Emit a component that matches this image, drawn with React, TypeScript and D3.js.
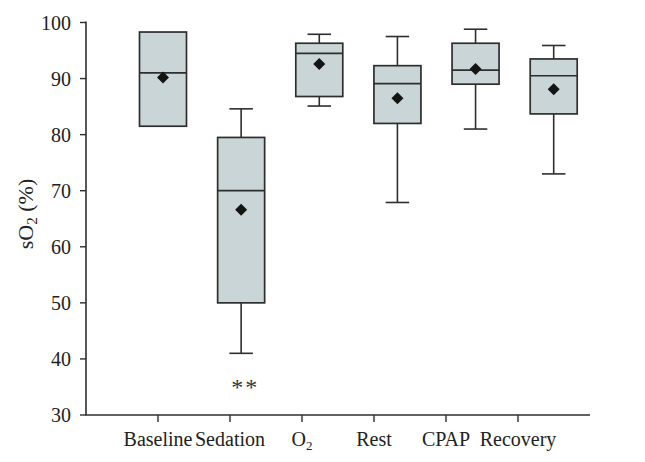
import React from "react";
import * as d3 from "d3";

const categories = ["Baseline", "Sedation", "O2", "Rest", "CPAP", "Recovery"];
const whiskerLow = [81.5, 41.0, 85.1, 67.9, 81.0, 73.0];
const q1 = [81.5, 50.0, 86.8, 82.0, 89.0, 83.7];
const median = [91.0, 70.0, 94.5, 89.1, 91.5, 90.5];
const q3 = [98.3, 79.5, 96.3, 92.3, 96.3, 93.5];
const whiskerHigh = [98.3, 84.6, 97.9, 97.5, 98.8, 95.9];
const means = [90.2, 66.6, 92.6, 86.5, 91.7, 88.1];
const yTicks = [30, 40, 50, 60, 70, 80, 90, 100];
const significance = ["", "**", "", "", "", ""];

const W = 645;
const H = 462;
const FONT = "'Liberation Serif', 'Times New Roman', serif";
const STROKE = "#2e2e2e";
const FILL = "#c9d5d6";

export default function App() {
  const y = d3.scaleLinear().domain([30, 100]).range([415, 22.5]);
  const xTick = d3.scalePoint<string>().domain(categories).range([86, 590]).padding(1);
  const xBox = d3.scalePoint<string>().domain(categories).range([163, 553.7]);
  const boxW = 47;
  const capW = 23.5;
  const diamond = d3.symbol().type(d3.symbolDiamond2).size(92)();

  return (
    <svg width={W} height={H} style={{ position: "absolute", left: 0, top: 0, background: "#fff" }}>
      {/* y axis */}
      <line x1={86} x2={86} y1={y(100) - 1} y2={y(30)} stroke={STROKE} strokeWidth={1.6} />
      {yTicks.map((t) => (
        <g key={t}>
          <line x1={80} x2={86} y1={y(t)} y2={y(t)} stroke={STROKE} strokeWidth={1.4} />
          <text x={71} y={y(t)} dy="0.35em" textAnchor="end" fontFamily={FONT} fontSize={20} fill="#222">
            {t}
          </text>
        </g>
      ))}
      {/* x axis */}
      <line x1={85.2} x2={590} y1={y(30)} y2={y(30)} stroke={STROKE} strokeWidth={1.6} />
      {categories.map((c) => (
        <g key={c}>
          <line x1={xTick(c)} x2={xTick(c)} y1={y(30)} y2={y(30) + 7} stroke={STROKE} strokeWidth={1.4} />
          <text x={xTick(c)} y={446} textAnchor="middle" fontFamily={FONT} fontSize={20} fill="#222">
            {c === "O2" ? (
              <>
                O<tspan fontSize={13} dy={4}>2</tspan>
              </>
            ) : (
              c
            )}
          </text>
        </g>
      ))}
      {/* y label */}
      <text
        transform={`translate(33, 214) rotate(-90)`}
        textAnchor="middle"
        fontFamily={FONT}
        fontSize={22}
        fill="#222"
      >
        sO<tspan fontSize={15} dy={4}>2</tspan>
        <tspan dy={-4}> (%)</tspan>
      </text>
      {/* boxes */}
      {categories.map((c, i) => {
        const cx = xBox(c) as number;
        return (
          <g key={c}>
            {whiskerHigh[i] > q3[i] && (
              <>
                <line x1={cx} x2={cx} y1={y(whiskerHigh[i])} y2={y(q3[i])} stroke={STROKE} strokeWidth={1.6} />
                <line x1={cx - capW / 2} x2={cx + capW / 2} y1={y(whiskerHigh[i])} y2={y(whiskerHigh[i])} stroke={STROKE} strokeWidth={1.6} />
              </>
            )}
            {whiskerLow[i] < q1[i] && (
              <>
                <line x1={cx} x2={cx} y1={y(q1[i])} y2={y(whiskerLow[i])} stroke={STROKE} strokeWidth={1.6} />
                <line x1={cx - capW / 2} x2={cx + capW / 2} y1={y(whiskerLow[i])} y2={y(whiskerLow[i])} stroke={STROKE} strokeWidth={1.6} />
              </>
            )}
            <rect
              x={cx - boxW / 2}
              y={y(q3[i])}
              width={boxW}
              height={y(q1[i]) - y(q3[i])}
              fill={FILL}
              stroke={STROKE}
              strokeWidth={1.7}
            />
            <line x1={cx - boxW / 2} x2={cx + boxW / 2} y1={y(median[i])} y2={y(median[i])} stroke={STROKE} strokeWidth={1.7} />
            <path d={diamond as string} transform={`translate(${cx},${y(means[i])})`} fill="#141414" />
            {significance[i] && (
              <text x={cx + 4} y={395} textAnchor="middle" fontFamily={FONT} fontSize={24} letterSpacing={2} fill="#333">
                {significance[i]}
              </text>
            )}
          </g>
        );
      })}
    </svg>
  );
}
